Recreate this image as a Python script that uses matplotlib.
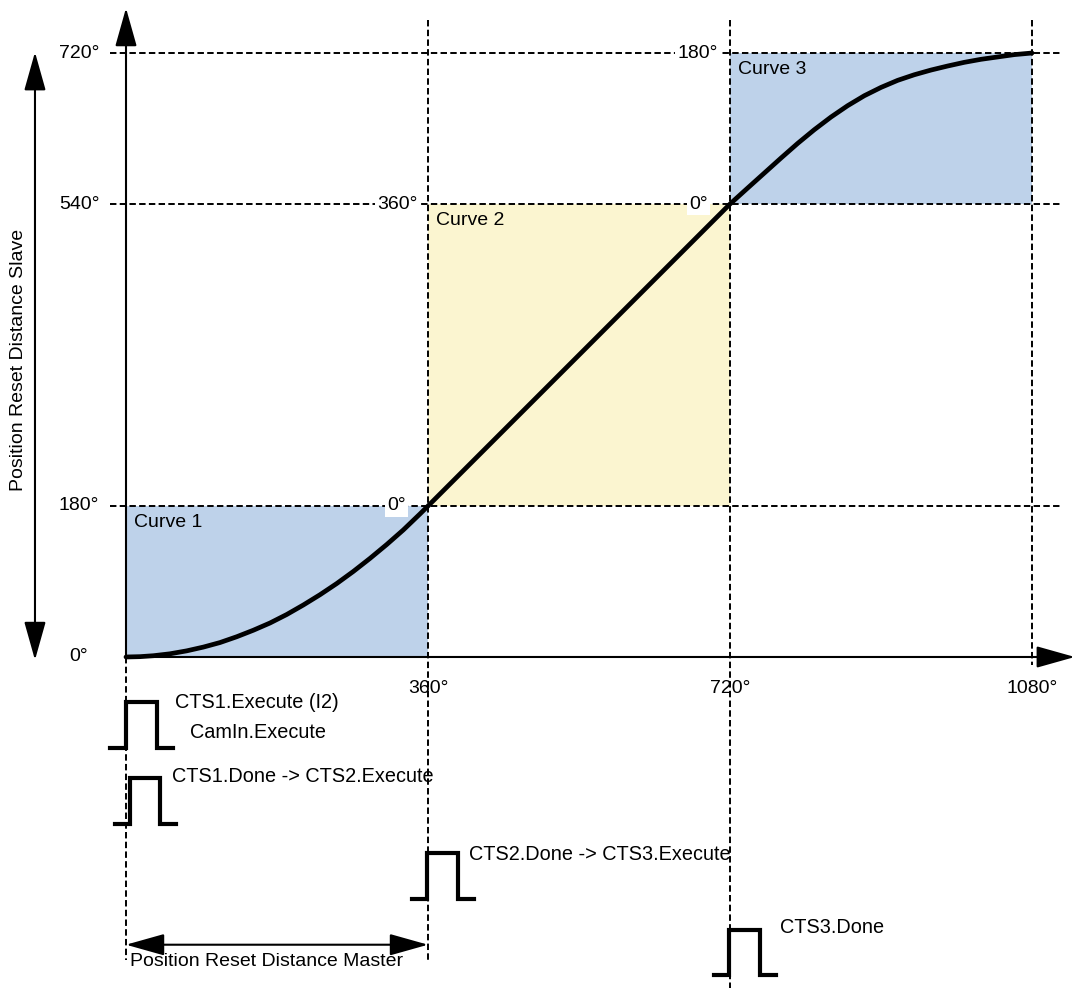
import matplotlib.pyplot as plt
from matplotlib.patches import FancyArrowPatch, Rectangle

plt.rcParams['font.family'] = ['Liberation Sans', 'DejaVu Sans']

# cam segments: (master start, master end, slave start, slave end)
segments = [(0, 360, 0, 180), (360, 720, 180, 540), (720, 1080, 540, 720)]
segment_names = ["Curve 1", "Curve 2", "Curve 3"]
segment_colors = ["#bed2ea", "#fbf5d0", "#bed2ea"]

# slave position (degrees)
master_pos = [0, 16.7, 32.6, 52.4, 72.3, 92.2, 112.0, 131.9, 151.8, 171.6, 191.5,
              211.4, 231.2, 251.1, 271.0, 290.8, 310.7, 330.6, 350.4, 360,
              720, 741.1, 760.9, 780.8, 800.7, 820.5, 840.4, 860.2, 880.1, 900.0,
              919.8, 939.7, 959.6, 979.4, 999.3, 1019.2, 1039.0, 1058.9, 1080]
slave_pos = [0, 0.4, 1.5, 3.8, 7.3, 11.8, 17.2, 24.1, 31.9, 40.5, 50.6,
             62.0, 74.2, 87.5, 102.0, 117.5, 134.0, 151.5, 170.5, 180,
             540, 559.1, 576.9, 594.8, 612.3, 628.6, 643.7, 657.2, 669.1, 679.0,
             687.4, 694.1, 699.7, 704.5, 708.9, 712.5, 715.3, 718.1, 720]

master_ticks = [360, 720, 1080]
slave_ticks = [0, 180, 540, 720]
local_labels = [("0°", 322, 180), ("360°", 323, 540), ("0°", 682, 540), ("180°", 681, 720)]

# signal pulses: rising edge, falling edge, level, label, label position
pulse_rise = [0, 5, 359, 719]
pulse_fall = [37, 40.5, 396, 756]
pulse_low = [-108.5, -199, -288.5, -379]
pulse_high = [-53.6, -144, -233.6, -325.4]
pulse_text = ["CTS1.Execute (I2)", "CTS1.Done -> CTS2.Execute",
              "CTS2.Done -> CTS3.Execute", "CTS3.Done"]
pulse_text_xy = [(58.4, -54.8), (54.8, -143), (409, -236), (779.6, -323)]

fig = plt.figure(figsize=(10.78, 9.88), dpi=100)
ax = fig.add_axes([0, 0, 1, 1])
ax.set_xlim(-150.2, 1134.8)
ax.set_ylim(-394.6, 783.2)
ax.axis('off')

dash = dict(color='black', lw=1.4, linestyle=(0, (3.3, 1.7)))

for (x0, x1, y0, y1), name, col in zip(segments, segment_names, segment_colors):
    ax.add_patch(Rectangle((x0, y0), x1 - x0, y1 - y0, facecolor=col, edgecolor='none', zorder=1))
    ax.text(x0 + 10, y1 - 20, name, fontsize=14, ha='left', va='center', zorder=5)

# guide lines
for y in slave_ticks[1:]:
    ax.plot([-19, 1113], [y, y], zorder=2, **dash)
for x in master_ticks:
    ax.plot([x, x], [759, -9.5 if x == 1080 else (-394.6 if x == 720 else -361)], zorder=2, **dash)
ax.plot([0, 0], [0, -361], zorder=2, **dash)

# axes with arrows
arrow_style = "-|>,head_length=1.6,head_width=0.45"
ax.add_patch(FancyArrowPatch((0, 0), (0, 773.6), arrowstyle=arrow_style, mutation_scale=15,
                             color='black', lw=1.5, shrinkA=0, shrinkB=0, zorder=4))
ax.add_patch(FancyArrowPatch((0, 0), (1131, 0), arrowstyle=arrow_style, mutation_scale=15,
                             color='black', lw=1.5, shrinkA=0, shrinkB=0, zorder=4))
ax.add_patch(FancyArrowPatch((-108.5, -3.6), (-108.5, 721), arrowstyle="<|-|>,head_length=1.6,head_width=0.45",
                             mutation_scale=15, color='black', lw=1.5, shrinkA=0, shrinkB=0, zorder=4))
ax.add_patch(FancyArrowPatch((0, -343), (360, -343), arrowstyle="<|-|>,head_length=1.6,head_width=0.45",
                             mutation_scale=15, color='black', lw=1.5, shrinkA=0, shrinkB=0, zorder=4))

ax.plot(master_pos, slave_pos, color='black', lw=3.4, solid_capstyle='round',
        solid_joinstyle='round', zorder=6)

for y in slave_ticks:
    ax.text(-56, y, f"{y}°", fontsize=14, ha='center', va='center')
for x in master_ticks:
    ax.text(x, -37, f"{x}°", fontsize=14, ha='center', va='center')
for txt, x, y in local_labels:
    ax.text(x, y, txt, fontsize=14, ha='center', va='center', zorder=5,
            bbox=dict(facecolor='white', edgecolor='none', pad=1.5))

ax.text(-128, 354, "Position Reset Distance Slave", fontsize=14, rotation=90,
        ha='center', va='center')
ax.text(4.8, -363.6, "Position Reset Distance Master", fontsize=14, ha='left', va='center')

for r, f, lo, hi, txt, (tx, ty) in zip(pulse_rise, pulse_fall, pulse_low, pulse_high,
                                       pulse_text, pulse_text_xy):
    ax.plot([r - 18.5, r, r, f, f, f + 18.5], [lo, lo, hi, hi, lo, lo],
            color='black', lw=3, solid_joinstyle='miter', zorder=6)
    ax.text(tx, ty, txt, fontsize=14.3, ha='left', va='center')
ax.text(76, -90.6, "CamIn.Execute", fontsize=14.3, ha='left', va='center')

fig.savefig("out.png", dpi=100)
